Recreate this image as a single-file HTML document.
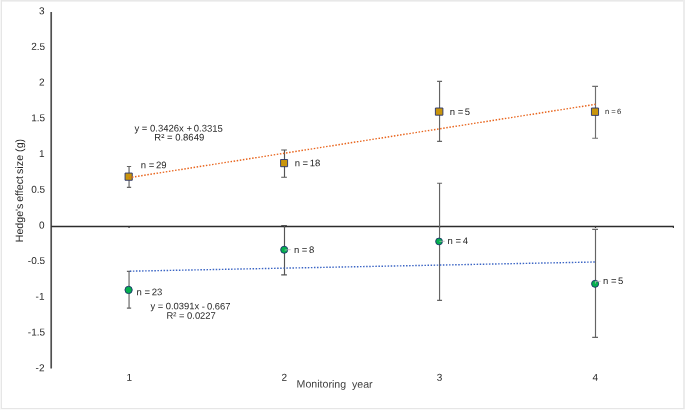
<!DOCTYPE html>
<html>
<head>
<meta charset="utf-8">
<style>
html,body{margin:0;padding:0;background:#fff;}
body{width:685px;height:410px;overflow:hidden;position:relative;font-family:"Liberation Sans",sans-serif;}
svg{position:absolute;left:0;top:0;display:block;will-change:transform;opacity:0.9999;text-rendering:geometricPrecision;}
text{font-family:"Liberation Sans",sans-serif;fill:#262626;}
.t{font-size:9.5px;fill:#2c2c2c;}
.a{font-size:10px;fill:#3a3a3a;}
.eb{stroke:#646464;stroke-width:1.15;fill:none;}
.sq{fill:#c9950c;stroke:#25326e;stroke-width:0.9;stroke-linejoin:round;}
.ci{fill:#04b04e;stroke:#1f2e6e;stroke-width:0.9;}
</style>
</head>
<body>
<svg width="685" height="410" viewBox="0 0 685 410">
  <rect x="0" y="0" width="685" height="410" fill="#ffffff"/>
  <!-- frame -->
  <rect x="1" y="0" width="683" height="1" fill="#e8e8e8"/>
  <rect x="1" y="1" width="683" height="1" fill="#f1f1f1"/>
  <rect x="0" y="0" width="1" height="410" fill="#f6f6f6"/>
  <rect x="1" y="0" width="1" height="409" fill="#e6e6e6"/>
  <rect x="683" y="0" width="2" height="409" fill="#ececec"/>
  <rect x="1" y="408" width="683" height="1" fill="#e6e6e6"/>
  <rect x="0" y="409" width="685" height="1" fill="#fafafa"/>

  <!-- axes -->
  <line x1="51.2" y1="12" x2="51.2" y2="368.4" stroke="#505050" stroke-width="1.7"/>
  <line x1="51.2" y1="226.45" x2="674.0" y2="226.45" stroke="#2c2c2c" stroke-width="1.45"/>
  <path d="M129.05 226.4V227.9M284.5 226.4V227.9M439.55 226.4V227.9M595.5 226.4V227.9M673.4 226.4V227.9" stroke="#3a3a3a" stroke-width="1.2" fill="none"/>

  <!-- y tick labels -->
  <g class="a" text-anchor="end">
    <text x="44.5" y="14.2" transform="rotate(0.1 44.5 14.2)">3</text>
    <text x="45.1" y="49.9" transform="rotate(0.1 45.1 49.9)">2.5</text>
    <text x="44.5" y="85.6" transform="rotate(0.1 44.5 85.6)">2</text>
    <text x="45.1" y="121.3" transform="rotate(0.1 45.1 121.3)">1.5</text>
    <text x="44.5" y="157.0" transform="rotate(0.1 44.5 157.0)">1</text>
    <text x="45.1" y="192.7" transform="rotate(0.1 45.1 192.7)">0.5</text>
    <text x="44.5" y="228.4" transform="rotate(0.1 44.5 228.4)">0</text>
    <text x="45.1" y="264.1" transform="rotate(0.1 45.1 264.1)">-0.5</text>
    <text x="44.5" y="299.8" transform="rotate(0.1 44.5 299.8)">-1</text>
    <text x="45.1" y="335.5" transform="rotate(0.1 45.1 335.5)">-1.5</text>
    <text x="44.5" y="371.2" transform="rotate(0.1 44.5 371.2)">-2</text>
  </g>

  <!-- x tick labels -->
  <g class="a" text-anchor="middle">
    <text x="129.3" y="380.75" transform="rotate(0.1 129.3 380.75)">1</text>
    <text x="284.3" y="380.75" transform="rotate(0.1 284.3 380.75)">2</text>
    <text x="439.5" y="380.75" transform="rotate(0.1 439.5 380.75)">3</text>
    <text x="595.4" y="380.75" transform="rotate(0.1 595.4 380.75)">4</text>
  </g>

  <!-- axis titles -->
  <text x="296.6" y="387.65" transform="rotate(0.1 334 387.65)" font-size="10.6" style="fill:#404040" xml:space="preserve">Monitoring  year</text>
  <g font-size="10.6" style="fill:#404040">
    <text transform="translate(23.1,242.2) rotate(-90)">Hedge's</text>
    <text transform="translate(23.1,201.8) rotate(-90)">effect</text>
    <text transform="translate(23.1,174.1) rotate(-90)" letter-spacing="0.15">size</text>
    <text transform="translate(23.1,151.9) rotate(-90)">(g)</text>
  </g>

  <!-- error bars: squares -->
  <g class="eb">
    <path d="M129.05 166.5V187.3M126.90 166.5H131.15M126.90 187.3H131.15"/>
    <path stroke="#545454" d="M284.50 150.0V177.2M281.20 150.0H286.90M281.20 177.2H286.90"/>
    <path d="M439.55 81.4V141.3M437.10 81.4H442.05M437.10 141.3H442.05"/>
    <path stroke="#6e6e6e" d="M595.50 86.3V138.2M592.20 86.3H598.00M592.20 138.2H598.00"/>
    <path d="M129.05 271.3V308.1M126.90 271.3H131.15M126.90 308.1H131.15"/>
    <path stroke="#545454" d="M284.50 225.5V274.8M281.20 225.5H286.90M281.20 274.8H286.90"/>
    <path d="M439.55 183.2V300.3M437.10 183.2H442.05M437.10 300.3H442.05"/>
    <path d="M595.50 229.4V337.3M592.20 229.4H598.00M592.20 337.3H598.00"/>
  </g>


  <!-- markers: squares -->
  <rect class="sq" x="125.05" y="173.05" width="7.2" height="7.2"/>
  <rect class="sq" x="280.6" y="159.5" width="7.0" height="7.2"/>
  <rect class="sq" x="435.4" y="108.0" width="7.5" height="7.2"/>
  <rect class="sq" x="591.45" y="108.0" width="7.1" height="7.4"/>
  <!-- circles -->
  <circle class="ci" cx="128.6" cy="289.9" r="3.65"/>
  <circle class="ci" cx="284.2" cy="249.75" r="3.55"/>
  <circle class="ci" cx="439.05" cy="241.45" r="3.4"/>
  <circle class="ci" cx="595.1" cy="283.8" r="3.55"/>

  <!-- leader lines -->
  <g stroke="#b2b2b2" stroke-width="0.8" fill="none">
    <path d="M284.6 250.1L290.6 249.6"/>
    <path d="M439.4 241.3H444.7"/>
    <path d="M595.4 283.6V281.3H600.7"/>
  </g>
  <!-- trend lines -->
  <line x1="129.3" y1="177.6" x2="595.5" y2="104.3" stroke="#e8641c" stroke-width="1.4" stroke-dasharray="1.5 1.62" stroke-dashoffset="0.47"/>
  <line x1="129.3" y1="271.2" x2="595.5" y2="262.0" stroke="#3a64c4" stroke-width="1.4" stroke-dasharray="1.5 1.57" stroke-dashoffset="-0.5"/>

  <!-- data labels -->
  <g class="t">
    <text x="140.8" y="168.3" transform="rotate(0.1 153 168.3)">n =<tspan dx="1.6">29</tspan></text>
    <text x="294.7" y="166.3" transform="rotate(0.1 307 166.3)">n =<tspan dx="1.6">18</tspan></text>
    <text x="449.8" y="115.05" transform="rotate(0.1 449.8 115.05)">n =<tspan dx="1.6">5</tspan></text>
    <text x="604.9" y="114.0" font-size="7.7" transform="rotate(0.1 604.9 114.0)">n =<tspan dx="1.3">6</tspan></text>
    <text x="136.6" y="295.3" transform="rotate(0.1 136.6 295.3)">n =<tspan dx="1.6">23</tspan></text>
    <text x="293.9" y="253.0" transform="rotate(0.1 293.9 253.0)">n =<tspan dx="1.6">8</tspan></text>
    <text x="447.6" y="244.0" transform="rotate(0.1 447.6 244.0)">n =<tspan dx="1.6">4</tspan></text>
    <text x="603" y="284.0" transform="rotate(0.1 603 284.0)">n =<tspan dx="1.6">5</tspan></text>
  </g>

  <!-- equations -->
  <g class="t">
    <text x="134.4" y="131.5" transform="rotate(0.1 134.4 131.5)">y = 0.3426x +<tspan dx="1.85">0.3315</tspan></text>
    <text x="154.3" y="140.4" transform="rotate(0.1 154.3 140.4)">R² = 0.8649</text>
    <text x="150.4" y="309.3" font-size="9.4" transform="rotate(0.1 150.4 309.3)">y = 0.0391x -<tspan dx="2.1">0.667</tspan></text>
    <text x="166.5" y="318.7" font-size="9.4" transform="rotate(0.1 166.5 318.7)">R² = 0.0227</text>
  </g>
</svg>
</body>
</html>
